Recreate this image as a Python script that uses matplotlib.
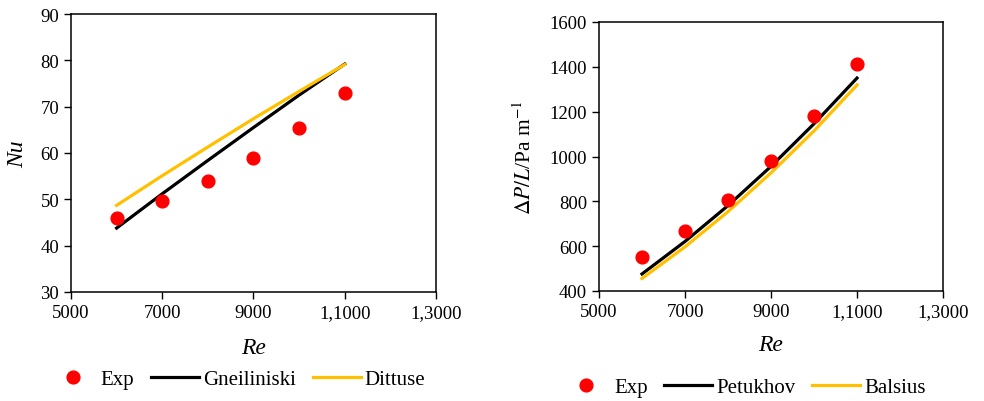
import matplotlib
matplotlib.use("Agg")
import matplotlib.pyplot as plt

plt.rcParams['font.family'] = ['Liberation Serif', 'DejaVu Serif']
plt.rcParams['mathtext.fontset'] = 'stix'

re = [6000, 7000, 8000, 9000, 10000, 11000]

# left panel: Nusselt number
nu_exp = [46.0, 49.7, 54.0, 59.0, 65.3, 73.0]
nu_gnie = [43.8, 51.2, 58.4, 65.5, 72.5, 79.2]
nu_ditt = [48.7, 55.1, 61.3, 67.4, 73.3, 79.1]

# right panel: pressure drop
dp_exp = [553, 669, 808, 981, 1181, 1414]
dp_petu = [476, 621, 781, 956, 1146, 1350]
dp_bals = [456, 597, 754, 927, 1114, 1319]

xticks = [5000, 7000, 9000, 11000, 13000]
xticklabels = ['5000', '7000', '9000', '1,1000', '1,3000']

red = '#ff0000'
gold = '#ffc000'
fs = 13.5

fig = plt.figure(figsize=(9.84, 4.02), dpi=100)
ax1 = fig.add_axes([71/984, 109/402, 365/984, 278/402])
ax2 = fig.add_axes([599/984, 110/402, 344/984, 269/402])

def style(ax, pad):
    ax.set_xlim(5000, 13000)
    ax.set_xticks(xticks)
    ax.set_xticklabels(xticklabels)
    ax.tick_params(direction='out', length=5, width=1, labelsize=fs, colors='black')
    for s in ax.spines.values():
        s.set_linewidth(1.1)
        s.set_color('black')
    ax.set_xlabel('Re', fontsize=17, style='italic', labelpad=pad)

ax1.plot(re, nu_exp, 'o', color=red, ms=9.2, label='Exp', zorder=3)
ax1.plot(re, nu_gnie, '-', color='black', lw=2.3, label='Gneiliniski')
ax1.plot(re, nu_ditt, '-', color=gold, lw=2.3, label='Dittuse')
style(ax1, 12)
ax1.set_ylim(30, 90)
ax1.set_yticks(range(30, 91, 10))
ax1.set_ylabel('Nu', fontsize=17, style='italic', labelpad=9)

ax2.plot(re, dp_exp, 'o', color=red, ms=9.2, label='Exp', zorder=3)
ax2.plot(re, dp_petu, '-', color='black', lw=2.3, label='Petukhov')
ax2.plot(re, dp_bals, '-', color=gold, lw=2.3, label='Balsius')
style(ax2, 10)
ax2.set_ylim(400, 1600)
ax2.set_yticks(range(400, 1601, 200))
ax2.set_ylabel(r'$\Delta P/L$/Pa m$^{-1}$', fontsize=15.5, labelpad=10)

leg_kw = dict(ncol=3, frameon=False, fontsize=15, handlelength=2.3,
              handletextpad=0.2, columnspacing=0.8, loc='center')
h, l = ax1.get_legend_handles_labels()
fig.legend(h, l, bbox_to_anchor=(237/984, 1 - 380/402), **leg_kw)
h, l = ax2.get_legend_handles_labels()
fig.legend(h, l, bbox_to_anchor=(744/984, 1 - 388/402), **leg_kw)

fig.savefig('out.png', dpi=100)
